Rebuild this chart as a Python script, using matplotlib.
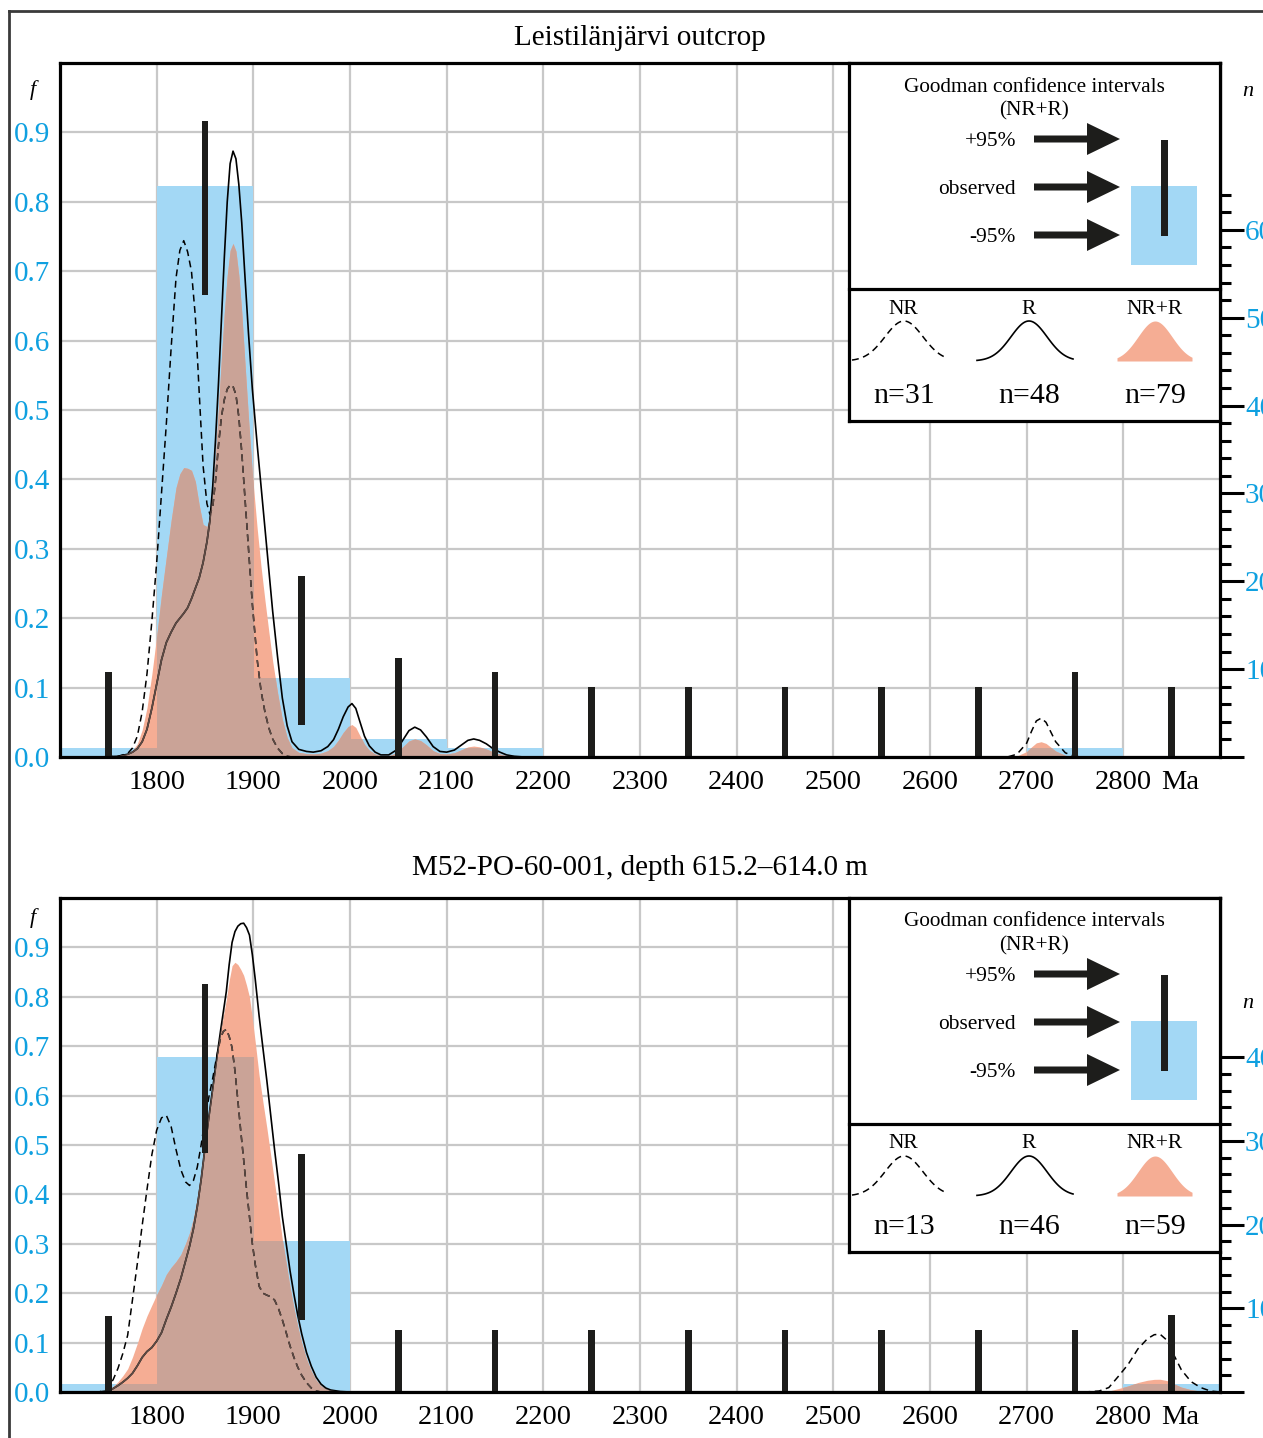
import numpy as np
import matplotlib
matplotlib.use("Agg")
import matplotlib.pyplot as plt
from matplotlib.patches import Rectangle, FancyArrow, Polygon
from matplotlib.lines import Line2D

plt.rcParams['font.family'] = ['Liberation Serif', 'DejaVu Serif']

W, H = 1263, 1438
BLUE = '#a3d8f5'
SALMON = '#f5ad94'
BROWN = '#caa397'
CYAN = '#0fa0e0'
GRID = '#c8c8c8'
BAR = '#1d1d1b'
INFILL_LINE = '#5e4b45'

# ---------------- shared axis data ----------------
bin_edges = [1700, 1800, 1900, 2000, 2100, 2200, 2300, 2400, 2500, 2600, 2700, 2800, 2900]
bin_centers = [1750, 1850, 1950, 2050, 2150, 2250, 2350, 2450, 2550, 2650, 2750, 2850]
x_ticks = [1800, 1900, 2000, 2100, 2200, 2300, 2400, 2500, 2600, 2700, 2800]
x_tick_labels = ['1800', '1900', '2000', '2100', '2200', '2300', '2400', '2500', '2600', '2700', '2800']
f_ticks = [0.0, 0.1, 0.2, 0.3, 0.4, 0.5, 0.6, 0.7, 0.8, 0.9]
f_tick_labels = ['0.0', '0.1', '0.2', '0.3', '0.4', '0.5', '0.6', '0.7', '0.8', '0.9']

# ---------------- top panel data ----------------
top_title = 'Leistilänjärvi outcrop'
top_N = 79
top_n_nr, top_n_r = 31, 48
top_counts = [1, 65, 9, 2, 1, 0, 0, 0, 0, 0, 1, 0]
top_ci_low = [0, 0.665, 0.046, 0, 0, 0, 0, 0, 0, 0, 0, 0]
top_ci_high = [0.122, 0.916, 0.261, 0.142, 0.122, 0.101, 0.101, 0.101, 0.101, 0.101, 0.122, 0.101]

top_age = [1700, 1740, 1760, 1770, 1775, 1780, 1785, 1790, 1795, 1800,
           1805, 1810, 1815, 1820, 1824, 1828, 1832, 1836, 1840, 1844,
           1848, 1852, 1855, 1858, 1861, 1864, 1867, 1870, 1873, 1876,
           1879, 1882, 1885, 1888, 1891, 1895, 1899, 1904, 1908, 1912,
           1916, 1920, 1925, 1930, 1935, 1940, 1947, 1955, 1962, 1970,
           1977, 1983, 1988, 1993, 1998, 2002, 2006, 2010, 2015, 2020,
           2026, 2032, 2040, 2048, 2055, 2061, 2067, 2073, 2079, 2086,
           2093, 2100, 2108, 2115, 2122, 2128, 2134, 2141, 2148, 2155,
           2162, 2170, 2180, 2200, 2680, 2690, 2700, 2705, 2710, 2715,
           2720, 2725, 2730, 2740, 2750, 2760, 2800, 2900]
top_nr = [0, 0, 0.001, 0.005, 0.013, 0.03, 0.065, 0.12, 0.195, 0.28,
          0.38, 0.48, 0.59, 0.69, 0.73, 0.744, 0.728, 0.7, 0.635, 0.525,
          0.42, 0.365, 0.35, 0.36, 0.4, 0.45, 0.49, 0.515, 0.53, 0.536,
          0.534, 0.522, 0.49, 0.44, 0.38, 0.3, 0.22, 0.14, 0.095, 0.065,
          0.042, 0.026, 0.013, 0.005, 0.001, 0, 0, 0, 0, 0,
          0, 0, 0, 0, 0, 0, 0, 0, 0, 0,
          0, 0, 0, 0, 0, 0, 0, 0, 0, 0,
          0, 0, 0, 0, 0, 0, 0, 0, 0, 0,
          0, 0, 0, 0, 0, 0.004, 0.02, 0.037, 0.052, 0.056,
          0.05, 0.036, 0.022, 0.006, 0.001, 0, 0, 0]
top_r = [0, 0, 0.001, 0.004, 0.007, 0.012, 0.022, 0.04, 0.07, 0.105,
         0.14, 0.165, 0.18, 0.193, 0.2, 0.207, 0.215, 0.228, 0.243, 0.258,
         0.28, 0.31, 0.34, 0.39, 0.46, 0.54, 0.63, 0.72, 0.8, 0.855,
         0.873, 0.862, 0.825, 0.77, 0.7, 0.61, 0.53, 0.45, 0.39, 0.33,
         0.27, 0.21, 0.145, 0.085, 0.045, 0.022, 0.011, 0.008, 0.007, 0.009,
         0.015, 0.025, 0.04, 0.058, 0.072, 0.077, 0.07, 0.052, 0.03, 0.016,
         0.007, 0.003, 0.003, 0.01, 0.025, 0.038, 0.043, 0.039, 0.029, 0.015,
         0.008, 0.007, 0.01, 0.017, 0.024, 0.026, 0.024, 0.019, 0.012, 0.007,
         0.003, 0.001, 0, 0, 0, 0, 0, 0, 0, 0,
         0, 0, 0, 0, 0, 0, 0, 0]
top_pool = [0, 0, 0.001, 0.0044, 0.0094, 0.019, 0.039, 0.071, 0.119, 0.174,
            0.234, 0.288, 0.341, 0.388, 0.408, 0.417, 0.416, 0.413, 0.397, 0.363,
            0.335, 0.332, 0.344, 0.378, 0.436, 0.505, 0.575, 0.64, 0.694, 0.73,
            0.74, 0.729, 0.694, 0.641, 0.575, 0.488, 0.408, 0.329, 0.274, 0.226,
            0.181, 0.138, 0.093, 0.054, 0.028, 0.0134, 0.0067, 0.0049, 0.0043, 0.0055,
            0.0091, 0.0152, 0.0243, 0.0353, 0.0438, 0.0468, 0.0426, 0.0316, 0.0182, 0.0097,
            0.0043, 0.0018, 0.0018, 0.0061, 0.0152, 0.0231, 0.0261, 0.0237, 0.0176, 0.0091,
            0.0049, 0.0043, 0.0061, 0.0103, 0.0146, 0.0158, 0.0146, 0.0116, 0.0073, 0.0043,
            0.0018, 0.0006, 0, 0, 0, 0.0016, 0.0078, 0.0145, 0.0204, 0.022,
            0.0196, 0.0141, 0.0086, 0.0024, 0.0004, 0, 0, 0]

# ---------------- bottom panel data ----------------
bot_title = 'M52-PO-60-001, depth 615.2\u2013614.0 m'
bot_N = 59
bot_n_nr, bot_n_r = 13, 46
bot_counts = [1, 40, 18, 0, 0, 0, 0, 0, 0, 0, 0, 1]
bot_ci_low = [0, 0.483, 0.146, 0, 0, 0, 0, 0, 0, 0, 0, 0]
bot_ci_high = [0.154, 0.826, 0.481, 0.126, 0.126, 0.126, 0.126, 0.126, 0.126, 0.126, 0.126, 0.155]

bot_age = [1700, 1740, 1748, 1755, 1760, 1765, 1770, 1775, 1780, 1785,
           1790, 1795, 1800, 1805, 1810, 1815, 1820, 1825, 1830, 1834,
           1838, 1842, 1846, 1850, 1854, 1858, 1862, 1866, 1869, 1872,
           1875, 1878, 1881, 1884, 1887, 1890, 1893, 1896, 1899, 1902,
           1906, 1910, 1914, 1918, 1922, 1926, 1930, 1934, 1938, 1942,
           1946, 1950, 1955, 1960, 1965, 1970, 1975, 1980, 1990, 2000,
           2760, 2775, 2785, 2795, 2805, 2815, 2825, 2832, 2838, 2845,
           2852, 2860, 2870, 2880, 2890, 2900]
bot_nr = [0, 0, 0.004, 0.025, 0.048, 0.078, 0.115, 0.187, 0.26, 0.337,
          0.41, 0.48, 0.53, 0.555, 0.56, 0.537, 0.491, 0.45, 0.425, 0.418,
          0.428, 0.455, 0.5, 0.552, 0.597, 0.635, 0.678, 0.716, 0.73, 0.734,
          0.72, 0.697, 0.65, 0.59, 0.528, 0.47, 0.41, 0.355, 0.3, 0.258,
          0.214, 0.2, 0.196, 0.193, 0.186, 0.169, 0.146, 0.12, 0.093, 0.07,
          0.05, 0.034, 0.019, 0.008, 0.002, 0, 0, 0, 0, 0,
          0, 0.002, 0.009, 0.032, 0.056, 0.087, 0.108, 0.116, 0.117, 0.105,
          0.076, 0.045, 0.021, 0.009, 0.002, 0]
bot_r = [0, 0, 0.002, 0.007, 0.013, 0.02, 0.028, 0.038, 0.053, 0.07,
         0.082, 0.09, 0.103, 0.12, 0.147, 0.172, 0.2, 0.23, 0.266, 0.295,
         0.33, 0.375, 0.43, 0.495, 0.557, 0.615, 0.674, 0.73, 0.77, 0.81,
         0.865, 0.91, 0.932, 0.943, 0.948, 0.949, 0.94, 0.925, 0.885, 0.835,
         0.761, 0.695, 0.63, 0.56, 0.49, 0.425, 0.355, 0.3, 0.245, 0.198,
         0.155, 0.118, 0.08, 0.052, 0.03, 0.016, 0.008, 0.004, 0.001, 0,
         0, 0, 0, 0, 0, 0, 0, 0, 0, 0,
         0, 0, 0, 0, 0, 0]
bot_pool = [0, 0, 0.0025, 0.011, 0.0207, 0.0328, 0.0471, 0.0708, 0.0986, 0.1288,
            0.1542, 0.1759, 0.1971, 0.2159, 0.238, 0.2524, 0.2641, 0.2784, 0.301, 0.3221,
            0.3516, 0.3926, 0.4455, 0.5075, 0.5658, 0.6194, 0.6749, 0.7269, 0.7612, 0.7933,
            0.833, 0.863, 0.8699, 0.8653, 0.8555, 0.8434, 0.8232, 0.7994, 0.7561, 0.7078,
            0.6405, 0.586, 0.5344, 0.4791, 0.423, 0.3686, 0.309, 0.2603, 0.2115, 0.1698,
            0.1319, 0.0995, 0.0666, 0.0423, 0.0238, 0.0125, 0.0062, 0.0031, 0.0008, 0,
            0, 0.0004, 0.002, 0.007, 0.0123, 0.0192, 0.0238, 0.0256, 0.0258, 0.0231,
            0.0167, 0.0099, 0.0046, 0.002, 0.0004, 0]

fig = plt.figure(figsize=(W / 100, H / 100), dpi=100)


def px_axes(l, t, r, b):
    return fig.add_axes([l / W, 1 - b / H, (r - l) / W, (b - t) / H])


XPAD = 9.5
XSIZE = 20.5
YSIZE = 21


def draw_panel(top, bottom, title, title_y, counts, N, ci_lo, ci_hi,
               ages, nr, r, pool, n_nr, n_r, f_y, n_y, leg_h, leg_n_y):
    ax = px_axes(60, top, 1220, bottom)
    ax.set_xlim(1700, 2900)
    ax.set_ylim(0, 1)
    ax.set_xticks(x_ticks, x_tick_labels)
    ax.set_yticks(f_ticks, f_tick_labels)
    ax.grid(True, color=GRID, lw=1.6)
    ax.set_axisbelow(True)
    ax.tick_params(axis='both', length=0)
    ax.tick_params(axis='y', labelcolor=CYAN, labelsize=YSIZE, pad=7)
    ax.tick_params(axis='x', labelsize=XSIZE, pad=XPAD)

    f = [c / N for c in counts]
    bars = ax.bar(bin_edges[:-1], f, width=100, align='edge', color=BLUE, lw=0, zorder=1)
    ax.fill_between(ages, pool, 0, color=SALMON, lw=0, zorder=2)
    for b, c in zip(bars, counts):
        if c > 0:
            p = ax.fill_between(ages, pool, 0, color=BROWN, lw=0, zorder=3)
            p.set_clip_path(b)
    verts = list(zip(ages, pool)) + [(ages[-1], 0), (ages[0], 0)]
    clip = Polygon(verts, closed=True, transform=ax.transData)
    dash = (0, (4.5, 3))
    ax.plot(ages, nr, color='k', lw=1.1, ls=dash, zorder=4)
    ax.plot(ages, r, color='k', lw=1.2, zorder=4)
    l1, = ax.plot(ages, nr, color=INFILL_LINE, lw=1.1, ls=dash, zorder=4.5)
    l1.set_clip_path(clip)
    l2, = ax.plot(ages, r, color=INFILL_LINE, lw=1.2, zorder=4.5)
    l2.set_clip_path(clip)

    heights = [hi - lo for lo, hi in zip(ci_lo, ci_hi)]
    ax.bar(bin_centers, heights, bottom=ci_lo, width=7.2, color=BAR, lw=0, zorder=6)

    for s in ax.spines.values():
        s.set_linewidth(2.3)
        s.set_zorder(10)

    ax.annotate('Ma', xy=(2839, 0), xycoords=('data', 'axes fraction'),
                xytext=(0, -XPAD), textcoords='offset points',
                ha='left', va='top', fontsize=XSIZE)

    ax2 = ax.twinx()
    ax2.set_ylim(0, N)
    maxc = (max(counts) // 2) * 2
    major = list(range(0, maxc + 1, 10))
    ax2.set_yticks(major, ['' if v == 0 else str(v) for v in major])
    ax2.set_yticks(list(range(0, maxc + 1, 2)), minor=True)
    ax2.tick_params(axis='y', which='major', length=17, width=2.2, pad=1,
                    labelcolor=CYAN, labelsize=YSIZE, direction='out')
    ax2.tick_params(axis='y', which='minor', length=8, width=2.2, direction='out')
    for s in ax2.spines.values():
        s.set_visible(False)

    fig.text(640 / W, 1 - title_y / H, title, ha='center', va='center', fontsize=21)
    fig.text(33 / W, 1 - f_y / H, 'f', ha='center', va='center', fontsize=16, fontstyle='italic')
    fig.text(1248 / W, 1 - n_y / H, 'n', ha='center', va='center', fontsize=16, fontstyle='italic')

    # legend box
    lg = px_axes(849, top, 1220, top + leg_h)
    lg.set_xlim(0, 371)
    lg.set_ylim(leg_h, 0)
    lg.set_xticks([])
    lg.set_yticks([])
    lg.set_facecolor('white')
    for s in lg.spines.values():
        s.set_linewidth(2.3)
    lg.text(185, 24, 'Goodman confidence intervals', ha='center', va='center', fontsize=15.3)
    lg.text(185, 48, '(NR+R)', ha='center', va='center', fontsize=15.3)
    for lab, yy in [('+95%', 76), ('observed', 124), ('-95%', 172)]:
        lg.text(167, yy + 2.5, lab, ha='right', va='center', fontsize=15.4)
        lg.add_patch(FancyArrow(185, yy, 86, 0, width=7, head_width=32, head_length=33,
                                length_includes_head=True, color=BAR, lw=0))
    lg.add_patch(Rectangle((282, 123), 66, 79, color=BLUE, lw=0))
    lg.add_patch(Rectangle((311.5, 77), 7, 96, color=BAR, lw=0))
    lg.plot([0, 371], [226, 226], color='k', lw=2.3, clip_on=False)

    base = 298
    lg.text(54, 246, 'NR', ha='center', va='center', fontsize=15.5)
    lg.text(180, 246, 'R', ha='center', va='center', fontsize=15.5)
    lg.text(306, 246, 'NR+R', ha='center', va='center', fontsize=15.5)
    gx = np.linspace(3, 98, 120)
    lg.plot(gx, base - 40 * np.exp(-0.5 * ((gx - 55) / 19) ** 2), color='k', lw=1.1, ls=dash)
    gx = np.linspace(128, 224, 120)
    lg.plot(gx, base - 40 * np.exp(-0.5 * ((gx - 180) / 18) ** 2), color='k', lw=1.2)
    gx = np.linspace(268, 343, 120)
    lg.fill_between(gx, base - 40 * np.exp(-0.5 * ((gx - 306) / 17) ** 2), base,
                    color=SALMON, lw=0)
    lg.text(55, leg_n_y, f'n={n_nr}', ha='center', va='center', fontsize=21.5)
    lg.text(180, leg_n_y, f'n={n_r}', ha='center', va='center', fontsize=21.5)
    lg.text(306, leg_n_y, f'n={n_nr + n_r}', ha='center', va='center', fontsize=21.5)
    return ax


draw_panel(63, 757, top_title, 38, top_counts, top_N, top_ci_low, top_ci_high,
           top_age, top_nr, top_r, top_pool, top_n_nr, top_n_r, 90, 92, 358, 333)
draw_panel(898, 1392, bot_title, 868, bot_counts, bot_N, bot_ci_low, bot_ci_high,
           bot_age, bot_nr, bot_r, bot_pool, bot_n_nr, bot_n_r, 918, 1003, 354, 329)

# outer frame (top and left edges)
fig.add_artist(Line2D([9 / W, 9 / W], [1 - 11 / H, 0], color='#3a3a3a', lw=2,
                      transform=fig.transFigure))
fig.add_artist(Line2D([9 / W, 1], [1 - 11 / H, 1 - 11 / H], color='#3a3a3a', lw=2,
                      transform=fig.transFigure))

fig.savefig('out.png', dpi=100)
